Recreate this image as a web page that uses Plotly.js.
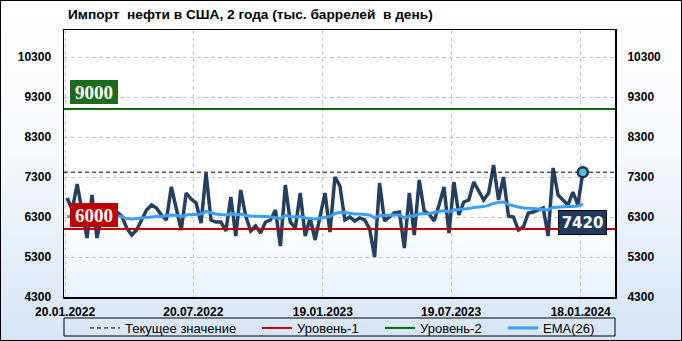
<!DOCTYPE html>
<html><head><meta charset="utf-8">
<script src="https://cdn.plot.ly/plotly-3.0.1.min.js"></script>
<style>
html,body{margin:0;padding:0;background:#fff;}
#wrap{position:relative;width:682px;height:341px;overflow:hidden;background:linear-gradient(to bottom,#ffffff 0%,#f6f9fd 45%,#d6e5f6 100%);}
#pbg{position:absolute;left:64px;top:30px;width:551px;height:267px;background:linear-gradient(to bottom,#ffffff 0%,#ffffff 72%,#e9f2fc 100%);}
#chart{position:absolute;left:0;top:0;width:682px;height:341px;}
#frame{position:absolute;left:0;top:0;width:682px;height:341px;box-sizing:border-box;border:1px solid #000;pointer-events:none;}
</style></head>
<body><div id="wrap"><div id="pbg"></div><div id="chart"></div><div id="frame"></div></div>
<script>
const dates = [
'2022-01-23','2022-01-30','2022-02-06','2022-02-13','2022-02-20','2022-02-27','2022-03-06','2022-03-13','2022-03-20','2022-03-27',
'2022-04-03','2022-04-10','2022-04-17','2022-04-24','2022-05-01','2022-05-08','2022-05-15','2022-05-22','2022-05-29','2022-06-05',
'2022-06-12','2022-06-19','2022-06-26','2022-07-03','2022-07-10','2022-07-17','2022-07-24','2022-07-31','2022-08-07','2022-08-14',
'2022-08-21','2022-08-28','2022-09-04','2022-09-11','2022-09-18','2022-09-25','2022-10-02','2022-10-09','2022-10-16','2022-10-23',
'2022-10-30','2022-11-06','2022-11-13','2022-11-20','2022-11-27','2022-12-04','2022-12-11','2022-12-18','2022-12-25','2023-01-01',
'2023-01-08','2023-01-15','2023-01-22','2023-01-29','2023-02-05','2023-02-12','2023-02-19','2023-02-26','2023-03-05','2023-03-12',
'2023-03-19','2023-03-26','2023-04-02','2023-04-09','2023-04-16','2023-04-23','2023-04-30','2023-05-07','2023-05-14','2023-05-21',
'2023-05-28','2023-06-04','2023-06-11','2023-06-18','2023-06-25','2023-07-02','2023-07-09','2023-07-16','2023-07-23','2023-07-30',
'2023-08-06','2023-08-13','2023-08-20','2023-08-27','2023-09-03','2023-09-10','2023-09-17','2023-09-24','2023-10-01','2023-10-08',
'2023-10-15','2023-10-22','2023-10-29','2023-11-05','2023-11-12','2023-11-19','2023-11-26','2023-12-03','2023-12-10','2023-12-17',
'2023-12-24','2023-12-31','2024-01-07','2024-01-14','2024-01-21'];

const imports = [
6775, 6475, 7125, 6425, 5775, 6850, 5775, 6350, 6475, 6425,
6425, 6325, 6025, 5850, 5975, 6225, 6475, 6600, 6525, 6350,
6225, 7050, 6475, 5975, 6900, 6750, 6650, 6150, 7400, 6225,
6175, 6175, 5950, 6800, 5825, 6975, 6325, 5950, 6075, 5900,
6175, 6225, 6475, 5575, 7100, 6175, 6025, 6900, 5825, 6275,
5725, 6350, 6900, 5925, 7300, 7075, 6225, 6300, 6200, 6275,
6225, 6000, 5300, 7150, 6200, 6300, 6400, 6425, 5525, 6900,
5850, 7225, 6450, 6375, 6200, 6600, 7050, 5900, 7175, 6350,
6675, 6725, 7175, 6950, 6725, 6900, 7600, 6725, 7300, 6325,
6300, 5975, 6050, 6400, 6425, 6475, 6525, 5825, 7525, 6850,
6725, 6600, 6925, 6600, 7420];

const ema26 = [
6310, 6310, 6325, 6325, 6310, 6325, 6300, 6310, 6325, 6325,
6325, 6310, 6260, 6250, 6260, 6275, 6290, 6310, 6310, 6310,
6325, 6350, 6340, 6310, 6350, 6360, 6375, 6375, 6440, 6400,
6375, 6360, 6350, 6390, 6350, 6375, 6340, 6325, 6325, 6310,
6310, 6300, 6290, 6260, 6340, 6310, 6300, 6310, 6275, 6260,
6250, 6275, 6300, 6310, 6390, 6410, 6410, 6390, 6375, 6375,
6360, 6350, 6275, 6340, 6340, 6350, 6350, 6350, 6275, 6325,
6325, 6375, 6375, 6390, 6410, 6440, 6460, 6425, 6475, 6490,
6500, 6510, 6540, 6550, 6560, 6590, 6640, 6660, 6675, 6610,
6575, 6550, 6525, 6525, 6510, 6500, 6490, 6475, 6540, 6550,
6560, 6560, 6560, 6575, 6625];

const currentValue = 7420;
const level1 = 6000;
const level2 = 9000;
const yTicks = [4300, 5300, 6300, 7300, 8300, 9300, 10300];
const xTickDates = ['2022-01-20', '2022-07-20', '2023-01-19', '2023-07-19', '2024-01-18'];
const xTickText = ['20.01.2022', '20.07.2022', '19.01.2023', '19.07.2023', '18.01.2024'];
const xRange = ['2022-01-18 11:00', '2024-03-06 10:00'];
const yRange = [4300, 10975];
const legendNames = ['Текущее значение', 'Уровень-1', 'Уровень-2', 'EMA(26)'];
const titleText = 'Импорт\u00a0 нефти в США, 2 года (тыс. баррелей\u00a0 в день)';

const lastDate = dates[dates.length - 1];
const lastVal = imports[imports.length - 1];

const tickFont = {family: 'Liberation Sans, Arial, sans-serif', size: 12, color: '#000', weight: 700};
const legFont = {family: 'Liberation Sans, Arial, sans-serif', size: 13, color: '#000'};

const traces = [
  {x: dates, y: imports, type: 'scatter', mode: 'lines', showlegend: false, hoverinfo: 'skip',
   line: {color: '#243f60', width: 3.5}},
  {x: dates, y: ema26, type: 'scatter', mode: 'lines', name: legendNames[3], legend: 'legend4', hoverinfo: 'skip',
   line: {color: '#3d9ef5', width: 3}},
  {x: xRange, y: [level1, level1], type: 'scatter', mode: 'lines', name: legendNames[1], legend: 'legend2', hoverinfo: 'skip',
   line: {color: '#c00000', width: 2}},
  {x: xRange, y: [level2, level2], type: 'scatter', mode: 'lines', name: legendNames[2], legend: 'legend3', hoverinfo: 'skip',
   line: {color: '#0a6a0a', width: 2}},
  {x: xRange, y: [currentValue, currentValue], type: 'scatter', mode: 'lines', name: legendNames[0], legend: 'legend', hoverinfo: 'skip',
   line: {color: '#000', width: 1, dash: '4px,3px'}},
  {x: [lastDate], y: [lastVal], type: 'scatter', mode: 'markers', showlegend: false, hoverinfo: 'skip',
   marker: {size: 10, color: '#5bbad6', line: {color: '#1c3556', width: 2.5}}},
  {x: [xRange[0]], y: [yRange[0]], type: 'scatter', mode: 'markers', yaxis: 'y2', showlegend: false, hoverinfo: 'skip',
   marker: {opacity: 0}}
];

function leg(px) {
  return {orientation: 'h', x: (px - 64) / 551, xanchor: 'left', y: -16 / 267, yanchor: 'top',
          font: legFont, bgcolor: 'rgba(0,0,0,0)', borderwidth: 0, itemwidth: 30};
}

const layout = {
  width: 682, height: 341,
  margin: {l: 64, r: 67, t: 30, b: 44, pad: 0, autoexpand: false},
  paper_bgcolor: 'rgba(0,0,0,0)', plot_bgcolor: 'rgba(0,0,0,0)',
  showlegend: true,
  title: {text: titleText, font: {family: 'Liberation Sans, Arial, sans-serif', size: 13.7, color: '#000', weight: 700},
          xref: 'container', yref: 'container', x: 68 / 682, xanchor: 'left', y: 1 - 14 / 341, yanchor: 'middle'},
  xaxis: {type: 'date', range: xRange, tickmode: 'array', tickvals: xTickDates, ticktext: xTickText,
          showgrid: true, gridcolor: '#c8c8c8', griddash: '4px,3px', gridwidth: 1,
          showline: true, mirror: true, linecolor: '#000', linewidth: 1.5,
          ticks: 'outside', ticklen: 3, tickcolor: 'rgba(0,0,0,0)', tickfont: tickFont, zeroline: false, fixedrange: true},
  yaxis: {range: yRange, tickmode: 'array', tickvals: yTicks, ticktext: yTicks.map(String),
          showgrid: true, gridcolor: '#c8c8c8', griddash: '4px,3px', gridwidth: 1,
          showline: true, mirror: true, linecolor: '#000', linewidth: 1.5,
          ticks: 'outside', ticklen: 9, tickcolor: 'rgba(0,0,0,0)', tickfont: tickFont, zeroline: false, fixedrange: true},
  yaxis2: {range: yRange, overlaying: 'y', side: 'right', tickmode: 'array', tickvals: yTicks, ticktext: yTicks.map(String),
          showgrid: false, showline: false, ticks: 'outside', ticklen: 9, tickcolor: 'rgba(0,0,0,0)', tickfont: tickFont,
          zeroline: false, fixedrange: true},
  legend: leg(85),
  legend2: leg(257),
  legend3: leg(380),
  legend4: leg(503),
  shapes: [
    {type: 'rect', xref: 'paper', yref: 'paper', x0: 0, x1: 1, y0: -21 / 267, y1: -39 / 267,
     line: {color: '#000', width: 1}, fillcolor: 'rgba(0,0,0,0)', layer: 'above'}
  ],
  annotations: [
    {xref: 'paper', x: 6 / 551, xanchor: 'left', yref: 'y', y: level2, yanchor: 'bottom', yshift: 5,
     text: '<b>' + level2 + '</b>', showarrow: false, bgcolor: '#1e6b1e', borderpad: 1, borderwidth: 0, width: 46, height: 22,
     font: {family: 'Liberation Serif, Times New Roman, serif', size: 19, color: '#fff'}},
    {xref: 'paper', x: 6 / 551, xanchor: 'left', yref: 'y', y: level1, yanchor: 'bottom', yshift: 2,
     text: '<b>' + level1 + '</b>', showarrow: false, bgcolor: '#c00000', borderpad: 1, borderwidth: 0, width: 46, height: 22,
     font: {family: 'Liberation Serif, Times New Roman, serif', size: 19, color: '#fff'}},
    {xref: 'x', x: lastDate, xanchor: 'center', yref: 'y', y: lastVal, yanchor: 'top', yshift: -38,
     text: '<b>' + lastVal + '</b>', showarrow: false, bgcolor: '#1f3a5c', bordercolor: '#000', borderwidth: 1, borderpad: 1,
     width: 45, height: 21, font: {family: 'DejaVu Sans, Verdana, sans-serif', size: 15, color: '#fff'}}
  ]
};

Plotly.newPlot('chart', traces, layout, {displayModeBar: false, staticPlot: true});
</script>
</body></html>
